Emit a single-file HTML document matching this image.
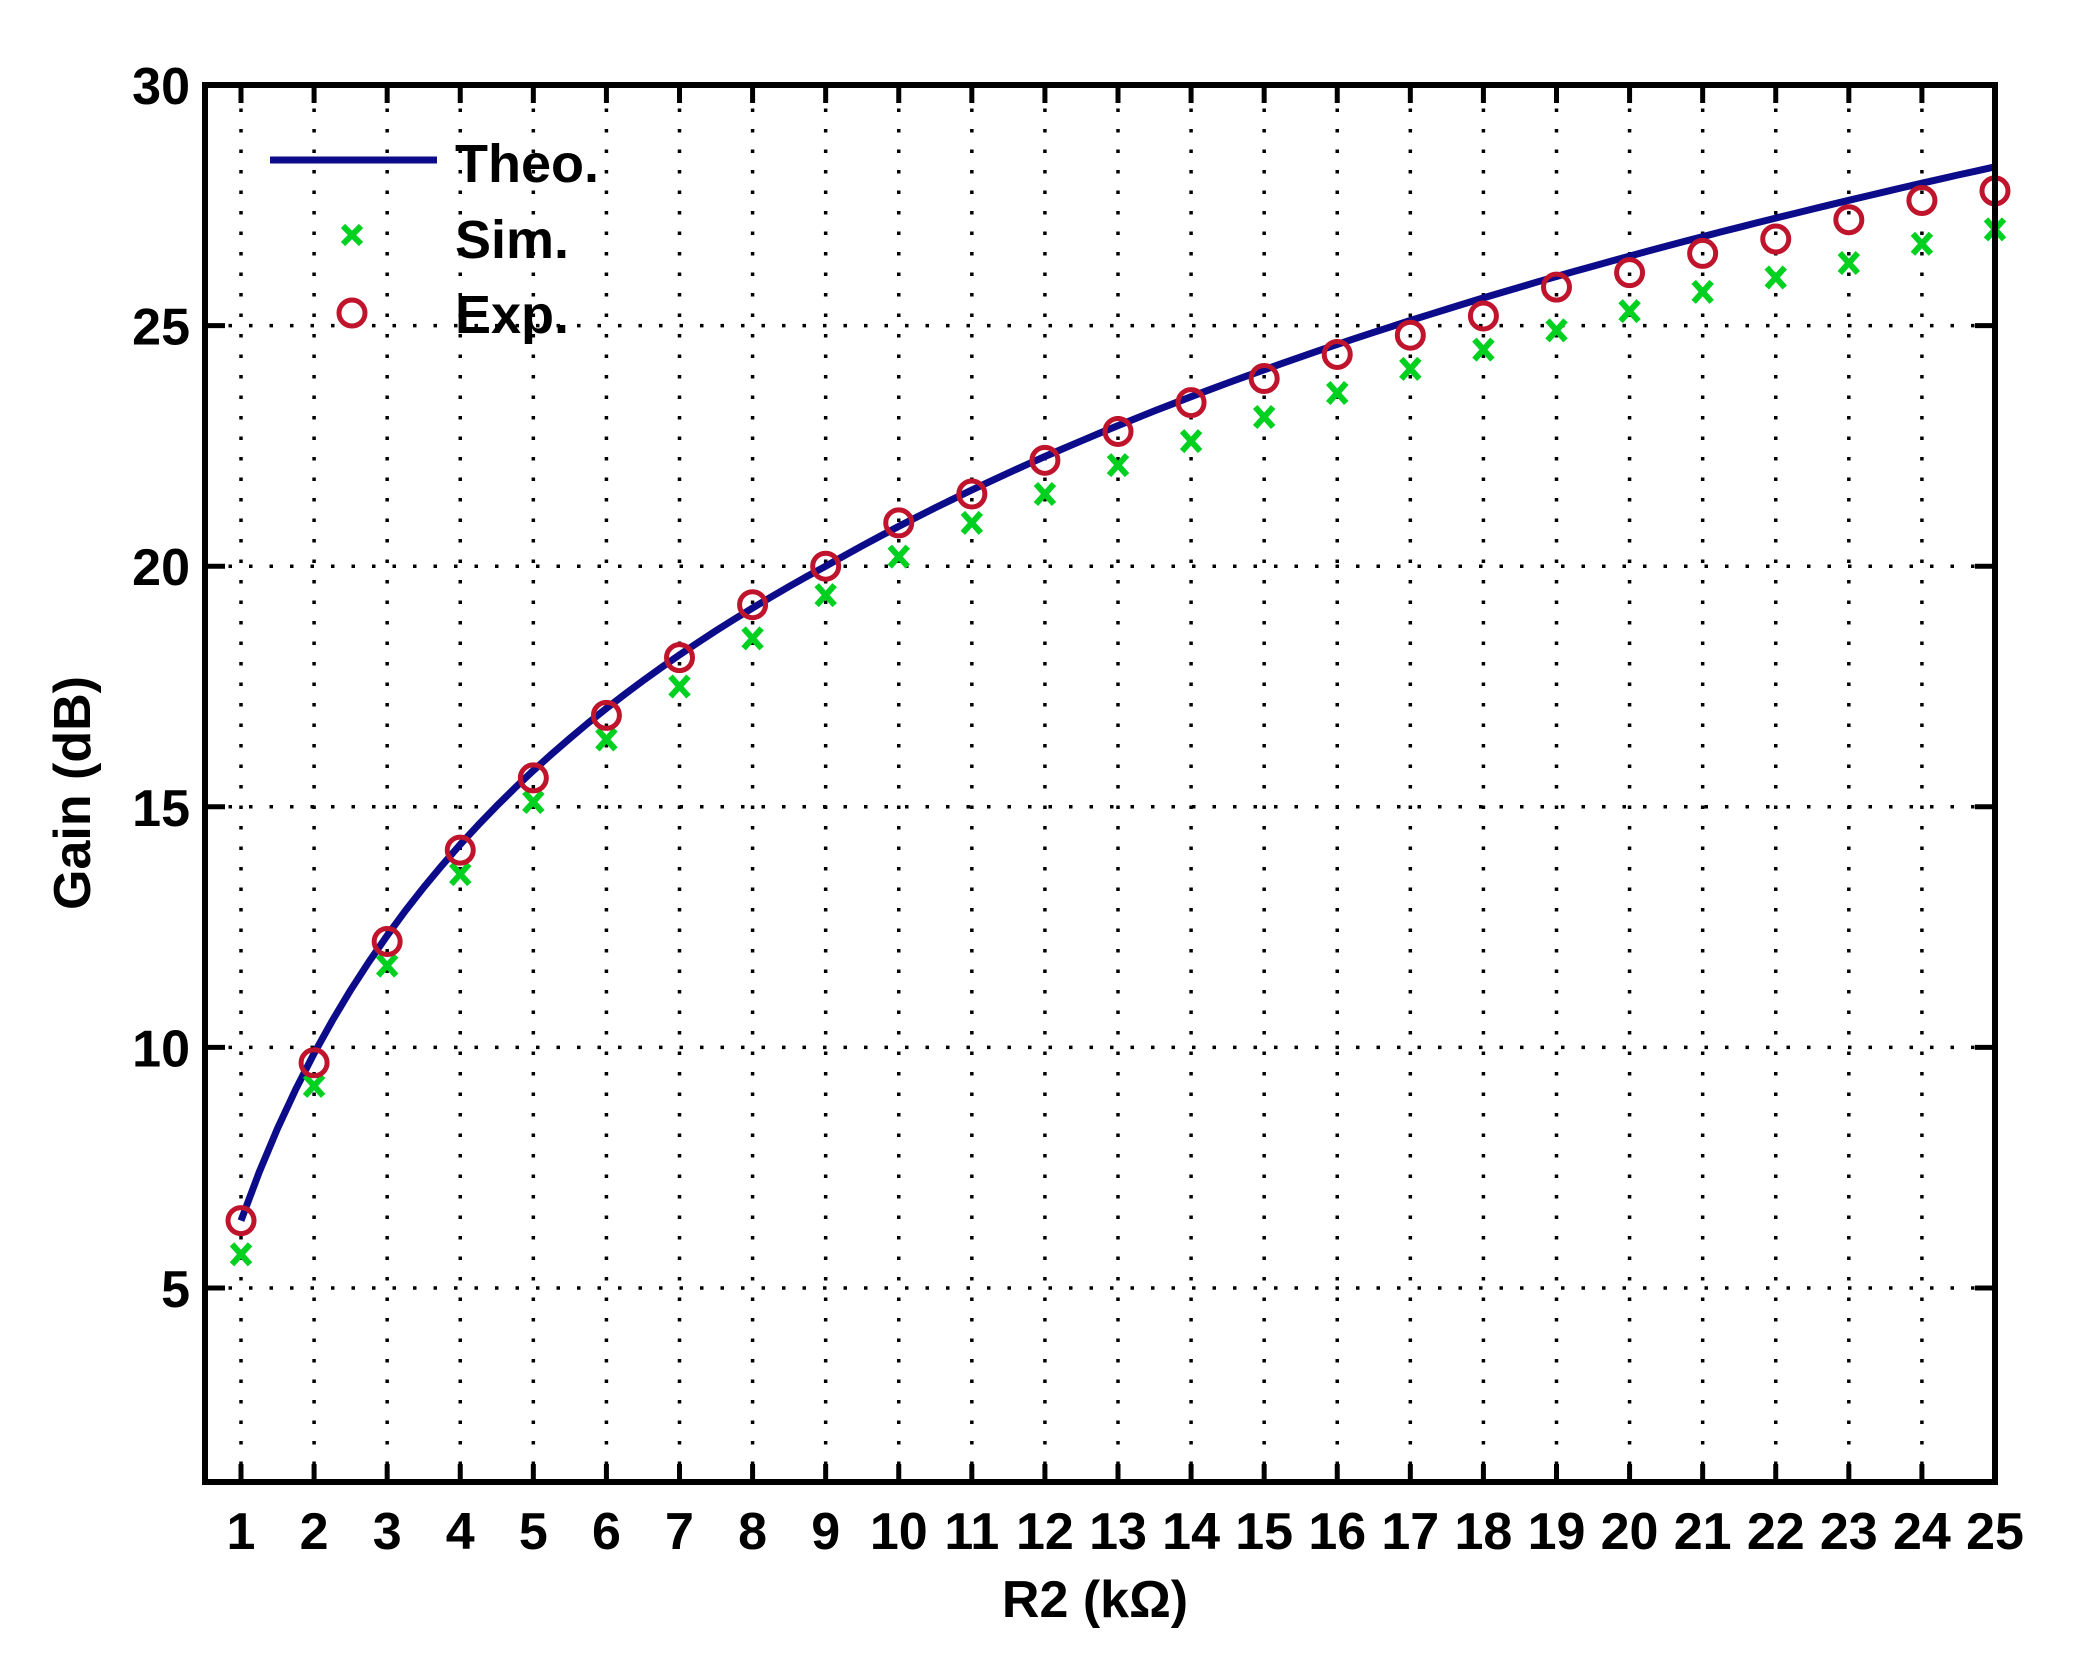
<!DOCTYPE html>
<html><head><meta charset="utf-8"><style>
html,body{margin:0;padding:0;background:#fff;}
svg{display:block;}
text{font-family:"Liberation Sans",sans-serif;font-weight:bold;fill:#000;}
</style></head><body>
<svg id="s" width="2076" height="1668" viewBox="0 0 2076 1668" xmlns="http://www.w3.org/2000/svg">
<rect width="2076" height="1668" fill="#fff"/>
<g id="grid"></g>
<g id="ticks"></g>
<path id="theo" fill="none" stroke="#0c0c8a" stroke-width="7" stroke-linejoin="round"/>
<g id="sim"></g>
<g id="exp"></g>
<rect x="205" y="85" width="1790" height="1397" fill="none" stroke="#000" stroke-width="6"/>
<g id="labels" font-size="52"></g>
<!-- legend -->
<line x1="270" y1="160" x2="437" y2="160" stroke="#0c0c8a" stroke-width="7"/>
<g stroke="#00d020" stroke-width="6"><line x1="343" y1="226" x2="361" y2="244"/><line x1="361" y1="226" x2="343" y2="244"/></g>
<circle cx="352" cy="313" r="13" fill="none" stroke="#c0142c" stroke-width="5"/>
<text x="455" y="182" font-size="54">Theo.</text>
<text x="455" y="258" font-size="54">Sim.</text>
<text x="455" y="333" font-size="54">Exp.</text>
<text x="1095" y="1617" font-size="52" text-anchor="middle">R2 (kΩ)</text>
<text transform="translate(90,793) rotate(-90)" font-size="52" text-anchor="middle">Gain (dB)</text>
</svg>
<script>
var NS="http://www.w3.org/2000/svg";
function X(v){return 241+(v-1)*73.083;}
function Y(v){return 85+(30-v)*48.12;}
function el(p,t,a){var e=document.createElementNS(NS,t);for(var k in a)e.setAttribute(k,a[k]);document.getElementById(p).appendChild(e);return e;}
for(var i=1;i<=24;i++){el("grid","line",{x1:X(i),y1:88,x2:X(i),y2:1480,stroke:"#000","stroke-width":3.5,"stroke-dasharray":"3.5 17"});}
for(var v=5;v<=25;v+=5){el("grid","line",{x1:208,y1:Y(v),x2:1992,y2:Y(v),stroke:"#000","stroke-width":3.5,"stroke-dasharray":"3.5 17"});}
for(var i=1;i<=25;i++){
 el("ticks","line",{x1:X(i),y1:1482,x2:X(i),y2:1464,stroke:"#000","stroke-width":5});
 el("ticks","line",{x1:X(i),y1:85,x2:X(i),y2:103,stroke:"#000","stroke-width":5});
 var t=el("labels","text",{x:X(i),y:1549,"text-anchor":"middle"});t.textContent=i;
}
for(var v=5;v<=30;v+=5){
 el("ticks","line",{x1:205,y1:Y(v),x2:225,y2:Y(v),stroke:"#000","stroke-width":5});
 el("ticks","line",{x1:1995,y1:Y(v),x2:1975,y2:Y(v),stroke:"#000","stroke-width":5});
 var t=el("labels","text",{x:190,y:Y(v)+19,"text-anchor":"end"});t.textContent=v;
}
var exp=[6.4,9.68,12.2,14.1,15.6,16.9,18.1,19.2,20.0,20.9,21.5,22.2,22.8,23.4,23.9,24.4,24.8,25.2,25.8,26.1,26.5,26.8,27.2,27.6,27.8];
var sim=[5.7,9.2,11.7,13.6,15.1,16.4,17.5,18.5,19.4,20.2,20.9,21.5,22.1,22.6,23.1,23.6,24.1,24.5,24.9,25.3,25.7,26.0,26.3,26.7,27.0];
var d="";
for(var x=1;x<=25.001;x+=0.25){
 var g=20*Math.log10(1+x)+Math.max(0,0.38*(1-(x-1)/8));
 d+=(d?"L":"M")+X(x).toFixed(1)+" "+Y(g).toFixed(1);
}
document.getElementById("theo").setAttribute("d",d);
for(var i=0;i<25;i++){
 var cx=X(i+1),sy=Y(sim[i]);
 el("sim","line",{x1:cx-9,y1:sy-10,x2:cx+9,y2:sy+10,stroke:"#00d020","stroke-width":6});
 el("sim","line",{x1:cx+9,y1:sy-10,x2:cx-9,y2:sy+10,stroke:"#00d020","stroke-width":6});
 el("exp","circle",{cx:cx,cy:Y(exp[i]),r:13,fill:"none",stroke:"#c0142c","stroke-width":5});
}
</script>
</body></html>
